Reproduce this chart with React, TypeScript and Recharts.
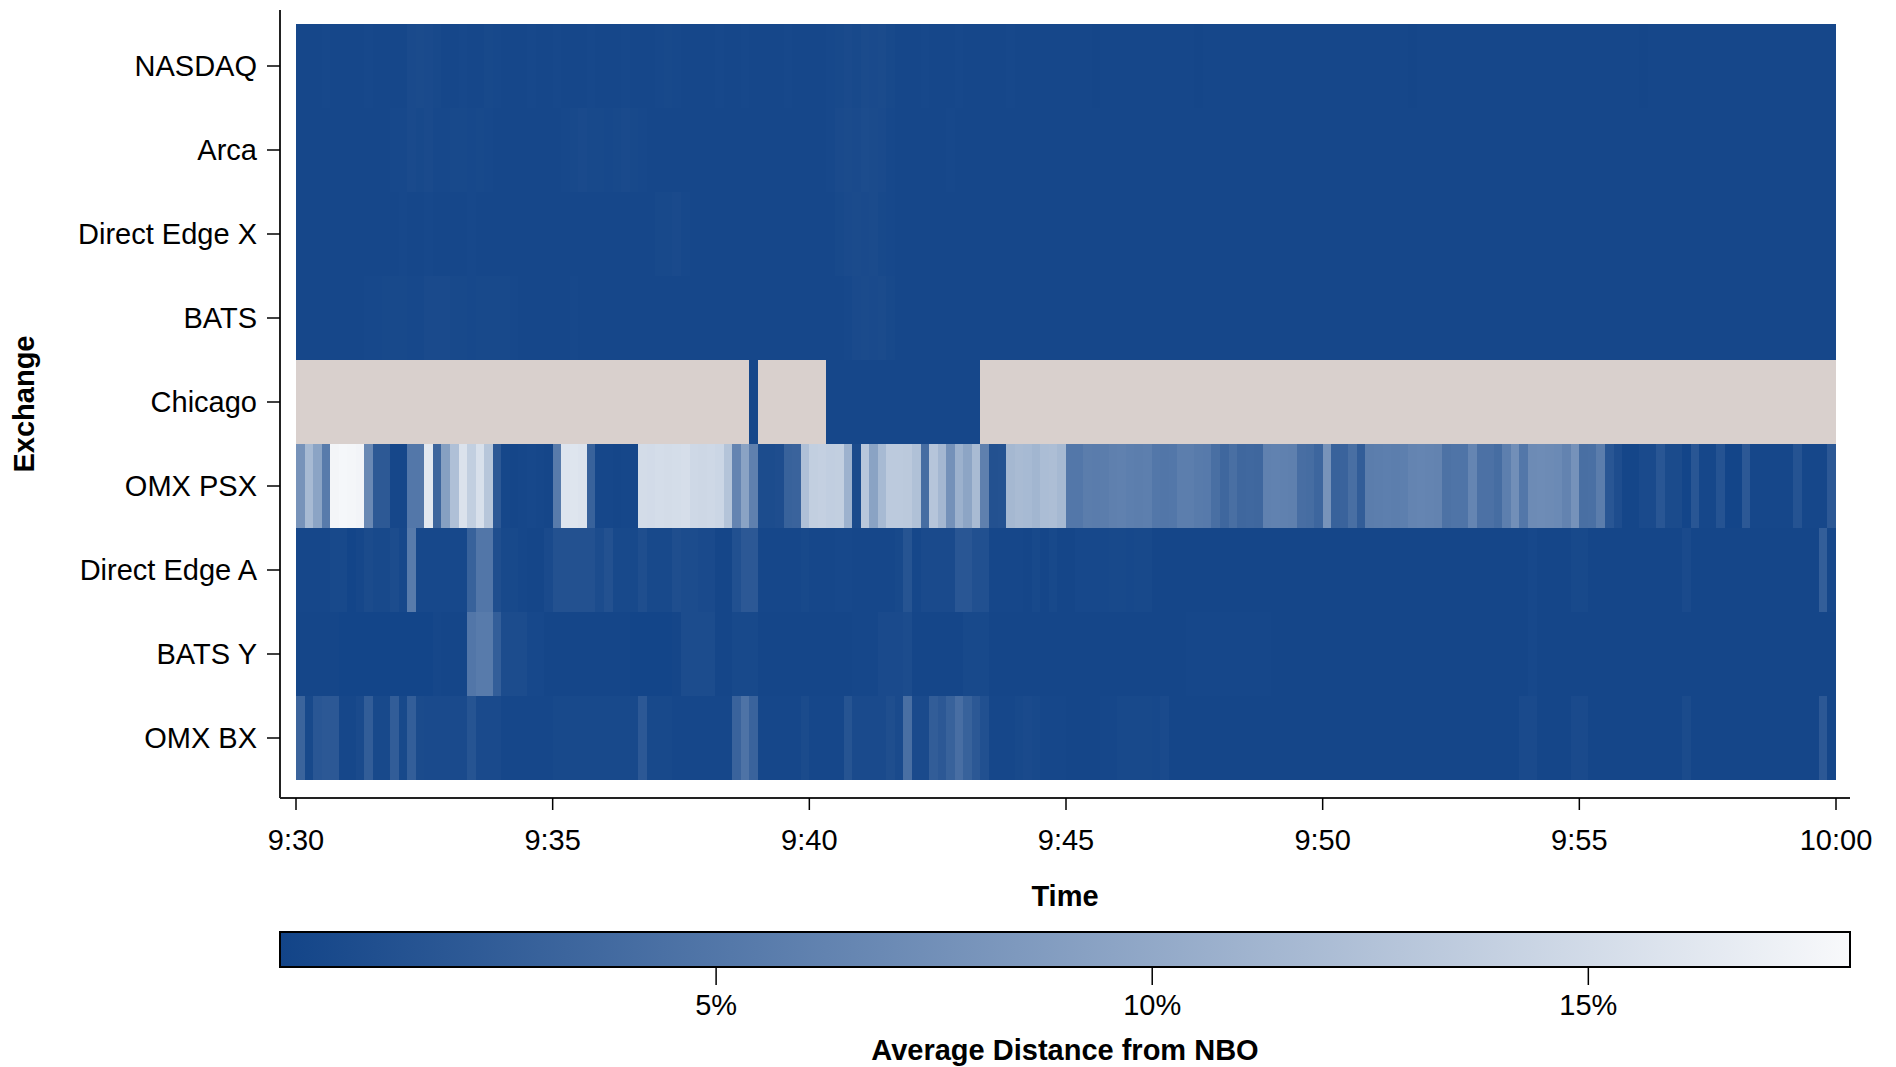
import React from 'react';
import { BarChart, Bar, Cell, XAxis, YAxis } from 'recharts';

// exchanges, top to bottom
const EXCHANGES = [
  'NASDAQ', 'Arca', 'Direct Edge X', 'BATS', 'Chicago',
  'OMX PSX', 'Direct Edge A', 'BATS Y', 'OMX BX',
];

// time axis: seconds after 9:30, one cell per 10 seconds
const BIN_SECONDS = 10;
const SESSION_SECONDS = 1800;
const TIME_TICKS = [0, 300, 600, 900, 1200, 1500, 1800];
const TIME_TICK_LABELS = ['9:30', '9:35', '9:40', '9:45', '9:50', '9:55', '10:00'];

// colour scale (percent)
const SCALE_MAX = 18;
const SCALE_TICKS = [5, 10, 15];

// average distance from NBO (%), 180 ten-second cells per exchange, 18 per line
const NASDAQ_PCT = [
  0.3, 0.3, 0.3, 0.4, 0.3, 0.3, 0.3, 0.3, 0.4, 0.3, 0.3, 0.3, 0.3, 0.6, 0.7, 0.6, 0.5, 0.3,
  0.3, 0.4, 0.3, 0.3, 0.5, 0.4, 0.3, 0.3, 0.3, 0.4, 0.3, 0.3, 0.4, 0.3, 0.3, 0.3, 0.4, 0.3,
  0.3, 0.3, 0.4, 0.3, 0.3, 0.3, 0.4, 0.5, 0.4, 0.3, 0.3, 0.3, 0.3, 0.4, 0.3, 0.3, 0.4, 0.3,
  0.3, 0.3, 0.3, 0.4, 0.3, 0.3, 0.3, 0.3, 0.4, 0.5, 0.6, 0.5, 0.7, 0.6, 0.7, 0.5, 0.3, 0.3,
  0.3, 0.4, 0.3, 0.3, 0.3, 0.4, 0.3, 0.3, 0.3, 0.3, 0.3, 0.4, 0.3, 0.3, 0.3, 0.3, 0.3, 0.3,
  0.3, 0.3, 0.3, 0.2, 0.3, 0.3, 0.3, 0.3, 0.3, 0.3, 0.3, 0.3, 0.3, 0.3, 0.3, 0.2, 0.3, 0.3,
  0.3, 0.3, 0.3, 0.3, 0.3, 0.3, 0.3, 0.3, 0.3, 0.3, 0.3, 0.3, 0.3, 0.3, 0.3, 0.3, 0.3, 0.3,
  0.3, 0.3, 0.3, 0.3, 0.2, 0.3, 0.3, 0.3, 0.3, 0.3, 0.3, 0.3, 0.3, 0.3, 0.3, 0.3, 0.3, 0.3,
  0.3, 0.3, 0.3, 0.3, 0.3, 0.3, 0.3, 0.3, 0.3, 0.3, 0.3, 0.3, 0.3, 0.2, 0.3, 0.3, 0.3, 0.3,
  0.3, 0.3, 0.3, 0.3, 0.3, 0.3, 0.3, 0.3, 0.3, 0.3, 0.3, 0.3, 0.3, 0.3, 0.3, 0.3, 0.3, 0.3,
];
const ARCA_PCT = [
  0.3, 0.3, 0.3, 0.3, 0.3, 0.3, 0.3, 0.3, 0.3, 0.3, 0.3, 0.4, 0.4, 0.6, 0.5, 0.6, 0.4, 0.4,
  0.5, 0.5, 0.4, 0.5, 0.4, 0.3, 0.3, 0.3, 0.3, 0.3, 0.3, 0.3, 0.3, 0.4, 0.5, 0.6, 0.5, 0.5,
  0.4, 0.5, 0.6, 0.5, 0.4, 0.3, 0.3, 0.3, 0.3, 0.3, 0.3, 0.3, 0.3, 0.3, 0.3, 0.3, 0.3, 0.3,
  0.3, 0.3, 0.3, 0.3, 0.3, 0.3, 0.3, 0.3, 0.4, 0.6, 0.7, 0.6, 0.8, 0.7, 0.6, 0.4, 0.3, 0.3,
  0.3, 0.3, 0.3, 0.3, 0.4, 0.3, 0.3, 0.3, 0.3, 0.3, 0.3, 0.3, 0.3, 0.3, 0.3, 0.3, 0.3, 0.3,
  0.3, 0.3, 0.3, 0.3, 0.3, 0.3, 0.3, 0.3, 0.3, 0.3, 0.3, 0.3, 0.3, 0.3, 0.3, 0.3, 0.3, 0.3,
  0.3, 0.3, 0.3, 0.3, 0.3, 0.3, 0.3, 0.3, 0.3, 0.3, 0.3, 0.3, 0.3, 0.3, 0.3, 0.3, 0.3, 0.3,
  0.3, 0.3, 0.3, 0.3, 0.3, 0.3, 0.3, 0.3, 0.3, 0.3, 0.3, 0.3, 0.3, 0.3, 0.3, 0.3, 0.3, 0.3,
  0.3, 0.3, 0.3, 0.3, 0.3, 0.3, 0.3, 0.3, 0.3, 0.3, 0.3, 0.3, 0.3, 0.3, 0.3, 0.3, 0.3, 0.3,
  0.3, 0.3, 0.3, 0.3, 0.3, 0.3, 0.3, 0.3, 0.3, 0.3, 0.3, 0.3, 0.3, 0.3, 0.3, 0.3, 0.3, 0.3,
];
const EDGE_X_PCT = [
  0.3, 0.3, 0.3, 0.3, 0.3, 0.3, 0.3, 0.3, 0.3, 0.3, 0.3, 0.3, 0.4, 0.3, 0.3, 0.4, 0.3, 0.3,
  0.3, 0.3, 0.4, 0.3, 0.3, 0.3, 0.3, 0.3, 0.3, 0.3, 0.3, 0.3, 0.3, 0.3, 0.3, 0.3, 0.3, 0.3,
  0.3, 0.3, 0.3, 0.3, 0.3, 0.3, 0.5, 0.5, 0.6, 0.4, 0.3, 0.3, 0.3, 0.3, 0.3, 0.3, 0.3, 0.3,
  0.3, 0.3, 0.3, 0.3, 0.3, 0.3, 0.3, 0.3, 0.3, 0.5, 0.6, 0.7, 0.6, 0.7, 0.5, 0.4, 0.3, 0.3,
  0.3, 0.3, 0.3, 0.3, 0.3, 0.3, 0.3, 0.3, 0.3, 0.3, 0.3, 0.3, 0.3, 0.3, 0.3, 0.3, 0.3, 0.3,
  0.3, 0.3, 0.3, 0.3, 0.3, 0.3, 0.3, 0.3, 0.3, 0.3, 0.3, 0.3, 0.3, 0.3, 0.3, 0.3, 0.3, 0.3,
  0.3, 0.3, 0.3, 0.3, 0.3, 0.3, 0.3, 0.3, 0.3, 0.3, 0.3, 0.3, 0.3, 0.3, 0.3, 0.3, 0.3, 0.3,
  0.3, 0.3, 0.3, 0.3, 0.3, 0.3, 0.3, 0.3, 0.3, 0.3, 0.3, 0.3, 0.3, 0.3, 0.3, 0.3, 0.3, 0.3,
  0.3, 0.3, 0.3, 0.3, 0.3, 0.3, 0.3, 0.3, 0.3, 0.3, 0.3, 0.3, 0.3, 0.3, 0.3, 0.3, 0.3, 0.3,
  0.3, 0.3, 0.3, 0.3, 0.3, 0.3, 0.3, 0.3, 0.3, 0.3, 0.3, 0.3, 0.3, 0.3, 0.3, 0.3, 0.3, 0.3,
];
const BATS_PCT = [
  0.3, 0.3, 0.3, 0.3, 0.3, 0.3, 0.3, 0.3, 0.4, 0.4, 0.5, 0.5, 0.5, 0.4, 0.4, 0.6, 0.6, 0.6,
  0.5, 0.5, 0.4, 0.5, 0.5, 0.5, 0.5, 0.4, 0.3, 0.3, 0.3, 0.3, 0.3, 0.3, 0.4, 0.3, 0.3, 0.3,
  0.3, 0.3, 0.3, 0.3, 0.3, 0.3, 0.3, 0.3, 0.3, 0.3, 0.3, 0.3, 0.3, 0.3, 0.3, 0.3, 0.3, 0.3,
  0.3, 0.3, 0.3, 0.3, 0.3, 0.3, 0.3, 0.3, 0.3, 0.3, 0.4, 0.6, 0.7, 0.6, 0.7, 0.5, 0.3, 0.3,
  0.3, 0.3, 0.3, 0.3, 0.3, 0.3, 0.3, 0.3, 0.3, 0.3, 0.3, 0.3, 0.3, 0.3, 0.3, 0.3, 0.3, 0.3,
  0.3, 0.3, 0.3, 0.3, 0.3, 0.3, 0.3, 0.3, 0.3, 0.3, 0.3, 0.3, 0.3, 0.3, 0.3, 0.3, 0.3, 0.3,
  0.3, 0.3, 0.3, 0.3, 0.3, 0.3, 0.3, 0.3, 0.3, 0.3, 0.3, 0.3, 0.3, 0.3, 0.3, 0.3, 0.3, 0.3,
  0.3, 0.3, 0.3, 0.3, 0.3, 0.3, 0.3, 0.3, 0.3, 0.3, 0.3, 0.3, 0.3, 0.3, 0.3, 0.3, 0.3, 0.3,
  0.3, 0.3, 0.3, 0.3, 0.3, 0.3, 0.3, 0.3, 0.3, 0.3, 0.3, 0.3, 0.3, 0.3, 0.3, 0.3, 0.3, 0.3,
  0.3, 0.3, 0.3, 0.3, 0.3, 0.3, 0.3, 0.3, 0.3, 0.3, 0.3, 0.3, 0.3, 0.3, 0.3, 0.3, 0.3, 0.3,
];
// null = no quotes (drawn grey)
const CHICAGO_PCT = [
  null, null, null, null, null, null, null, null, null, null, null, null, null, null, null, null, null, null,
  null, null, null, null, null, null, null, null, null, null, null, null, null, null, null, null, null, null,
  null, null, null, null, null, null, null, null, null, null, null, null, null, null, null, null, null, 0.3,
  null, null, null, null, null, null, null, null, 0.3, 0.3, 0.3, 0.3, 0.3, 0.3, 0.3, 0.3, 0.3, 0.3,
  0.3, 0.3, 0.3, 0.3, 0.3, 0.3, 0.3, 0.3, null, null, null, null, null, null, null, null, null, null,
  null, null, null, null, null, null, null, null, null, null, null, null, null, null, null, null, null, null,
  null, null, null, null, null, null, null, null, null, null, null, null, null, null, null, null, null, null,
  null, null, null, null, null, null, null, null, null, null, null, null, null, null, null, null, null, null,
  null, null, null, null, null, null, null, null, null, null, null, null, null, null, null, null, null, null,
  null, null, null, null, null, null, null, null, null, null, null, null, null, null, null, null, null, null,
];
const PSX_PCT = [
  7.9, 11.7, 9.5, 5.5, 17.6, 17.8, 17.7, 17.5, 6.9, 2.1, 2.1, 0.3, 0.3, 5.1, 5.1, 16.3, 3.3, 9.1,
  12.3, 15.7, 13.8, 15.5, 12.9, 2.0, 0.3, 0.2, 0.3, 0.4, 0.3, 0.2, 5.5, 15.9, 16.0, 15.8, 3.0, 0.3,
  0.3, 0.2, 0.3, 0.3, 15.1, 15.0, 15.2, 15.1, 15.2, 15.3, 14.7, 14.6, 14.7, 14.5, 12.7, 6.4, 9.4, 6.0,
  0.8, 0.8, 0.9, 3.0, 3.1, 12.3, 13.8, 13.9, 13.7, 13.8, 10.9, 0.7, 13.0, 9.4, 11.7, 13.3, 13.3, 13.2,
  12.4, 4.1, 12.8, 11.4, 7.7, 10.8, 9.6, 11.8, 6.0, 1.3, 1.4, 11.5, 11.8, 11.7, 11.3, 12.0, 12.1, 11.6,
  5.1, 5.1, 5.7, 5.6, 5.7, 6.0, 6.1, 5.9, 5.8, 5.9, 5.1, 5.0, 5.1, 5.8, 5.8, 5.5, 5.4, 4.3,
  3.5, 4.3, 3.5, 3.6, 3.5, 6.1, 6.2, 6.1, 6.0, 4.2, 4.1, 3.4, 7.9, 3.0, 3.1, 4.3, 2.5, 5.7,
  5.8, 5.9, 5.8, 5.9, 6.4, 6.5, 6.4, 6.3, 4.6, 4.8, 4.8, 6.5, 4.5, 4.5, 4.1, 5.9, 7.5, 5.1,
  7.1, 7.2, 7.1, 7.0, 6.3, 7.8, 4.3, 4.4, 5.7, 1.8, 0.9, 0.2, 0.2, 0.6, 0.6, 1.8, 0.7, 0.7,
  0.1, 1.8, 0.3, 0.3, 1.5, 0.1, 0.1, 2.0, 0.3, 0.3, 0.3, 0.3, 0.3, 1.5, 0.3, 0.3, 0.3, 2.0,
];
const EDGE_A_PCT = [
  0.3, 0.3, 0.3, 0.3, 0.5, 0.5, 0.1, 0.3, 0.7, 0.5, 0.5, 0.8, 0.4, 5.5, 0.4, 0.4, 0.4, 0.4,
  0.4, 0.4, 3.0, 5.0, 5.0, 1.0, 0.5, 0.5, 0.3, 0.2, 0.2, 0.6, 1.3, 1.3, 1.3, 1.3, 1.3, 0.8,
  1.3, 0.5, 0.5, 0.5, 1.0, 0.5, 0.5, 0.5, 1.0, 0.8, 0.8, 0.6, 0.6, 0.2, 0.2, 1.2, 2.0, 2.0,
  0.3, 0.3, 0.3, 0.3, 0.3, 0.5, 0.3, 0.3, 0.3, 0.4, 0.4, 0.3, 0.3, 0.3, 0.3, 0.3, 0.5, 1.6,
  0.3, 0.6, 0.6, 0.6, 0.6, 1.8, 1.8, 1.2, 1.2, 0.3, 0.3, 0.3, 0.3, 0.2, 0.5, 0.2, 0.5, 0.2,
  0.2, 0.4, 0.4, 0.4, 0.4, 0.5, 0.5, 0.4, 0.5, 0.5, 0.2, 0.2, 0.2, 0.2, 0.2, 0.2, 0.2, 0.2,
  0.2, 0.2, 0.2, 0.2, 0.2, 0.2, 0.2, 0.2, 0.2, 0.2, 0.2, 0.2, 0.2, 0.2, 0.2, 0.2, 0.2, 0.2,
  0.2, 0.2, 0.2, 0.2, 0.2, 0.2, 0.2, 0.2, 0.2, 0.2, 0.2, 0.2, 0.2, 0.2, 0.2, 0.2, 0.2, 0.2,
  0.4, 0.2, 0.2, 0.2, 0.2, 0.5, 0.5, 0.2, 0.2, 0.2, 0.2, 0.2, 0.2, 0.2, 0.2, 0.2, 0.2, 0.2,
  0.6, 0.2, 0.2, 0.2, 0.2, 0.2, 0.2, 0.2, 0.2, 0.2, 0.2, 0.2, 0.2, 0.2, 0.2, 0.2, 2.6, 0.3,
];
const BATS_Y_PCT = [
  0.2, 0.2, 0.2, 0.2, 0.2, 0.1, 0.1, 0.1, 0.1, 0.1, 0.1, 0.1, 0.1, 0.1, 0.1, 0.1, 0.3, 0.2,
  0.2, 0.2, 5.0, 5.5, 5.5, 2.6, 0.8, 0.8, 0.8, 0.4, 0.4, 0.2, 0.2, 0.2, 0.2, 0.2, 0.2, 0.2,
  0.2, 0.2, 0.2, 0.1, 0.1, 0.1, 0.1, 0.1, 0.2, 0.8, 0.8, 0.8, 0.8, 0.2, 0.2, 0.5, 0.5, 0.5,
  0.2, 0.2, 0.2, 0.2, 0.2, 0.2, 0.2, 0.2, 0.2, 0.2, 0.2, 0.3, 0.3, 0.3, 0.6, 0.6, 0.6, 0.8,
  0.2, 0.2, 0.2, 0.2, 0.2, 0.2, 0.5, 0.5, 0.5, 0.2, 0.2, 0.2, 0.2, 0.2, 0.2, 0.2, 0.2, 0.2,
  0.2, 0.2, 0.2, 0.2, 0.2, 0.2, 0.2, 0.2, 0.2, 0.2, 0.2, 0.2, 0.2, 0.2, 0.3, 0.3, 0.3, 0.3,
  0.3, 0.3, 0.3, 0.3, 0.3, 0.3, 0.2, 0.2, 0.2, 0.2, 0.2, 0.2, 0.2, 0.2, 0.2, 0.2, 0.2, 0.2,
  0.2, 0.2, 0.2, 0.2, 0.2, 0.2, 0.2, 0.2, 0.2, 0.2, 0.2, 0.2, 0.2, 0.2, 0.2, 0.2, 0.2, 0.2,
  0.4, 0.2, 0.2, 0.2, 0.2, 0.2, 0.2, 0.2, 0.2, 0.2, 0.2, 0.2, 0.2, 0.2, 0.2, 0.2, 0.2, 0.2,
  0.2, 0.2, 0.2, 0.2, 0.2, 0.2, 0.2, 0.2, 0.2, 0.2, 0.2, 0.2, 0.2, 0.2, 0.2, 0.2, 0.2, 0.2,
];
const BX_PCT = [
  3.2, 0.5, 1.8, 2.0, 2.0, 0.3, 0.3, 0.6, 2.5, 0.5, 0.5, 2.5, 0.5, 2.6, 0.7, 0.6, 0.6, 0.6,
  0.6, 0.6, 1.6, 0.6, 0.6, 0.6, 0.3, 0.3, 0.3, 0.3, 0.3, 0.3, 0.5, 0.5, 0.5, 0.5, 0.5, 0.5,
  0.5, 0.5, 0.5, 0.5, 2.0, 0.5, 0.5, 0.5, 0.3, 0.3, 0.3, 0.3, 0.3, 0.3, 0.3, 3.1, 4.7, 3.1,
  0.3, 0.3, 0.3, 0.3, 0.3, 0.7, 0.3, 0.3, 0.3, 0.3, 1.6, 0.6, 0.6, 0.6, 0.6, 1.0, 0.6, 4.3,
  0.6, 0.6, 2.5, 2.0, 3.0, 4.2, 3.0, 2.0, 1.2, 0.3, 0.3, 0.3, 0.5, 0.6, 0.5, 0.3, 0.3, 0.3,
  0.2, 0.2, 0.2, 0.2, 0.3, 0.3, 0.5, 0.5, 0.5, 0.5, 0.4, 0.6, 0.2, 0.2, 0.2, 0.2, 0.2, 0.2,
  0.2, 0.2, 0.2, 0.2, 0.2, 0.2, 0.2, 0.2, 0.2, 0.2, 0.2, 0.2, 0.2, 0.2, 0.2, 0.2, 0.2, 0.2,
  0.2, 0.2, 0.2, 0.2, 0.2, 0.2, 0.2, 0.2, 0.2, 0.2, 0.2, 0.2, 0.2, 0.2, 0.2, 0.2, 0.2, 0.6,
  0.6, 0.2, 0.2, 0.2, 0.2, 0.6, 0.6, 0.2, 0.2, 0.2, 0.2, 0.2, 0.2, 0.2, 0.2, 0.2, 0.2, 0.2,
  0.7, 0.2, 0.2, 0.2, 0.2, 0.2, 0.2, 0.2, 0.2, 0.2, 0.2, 0.2, 0.2, 0.2, 0.2, 0.2, 2.0, 0.2,
];

const ROW_VALUES = [
  NASDAQ_PCT, ARCA_PCT, EDGE_X_PCT, BATS_PCT, CHICAGO_PCT,
  PSX_PCT, EDGE_A_PCT, BATS_Y_PCT, BX_PCT,
];

const LOW = [18, 68, 136];
const HIGH = [248, 249, 251];
const MISSING = '#d9d0cd';
const FONT = "'Liberation Sans', Arial, Helvetica, sans-serif";

function pctColor(v: number | null) {
  if (v == null) return MISSING;
  const t = Math.max(0, Math.min(1, v / SCALE_MAX));
  const c = LOW.map((lo, k) => Math.round(lo + (HIGH[k] - lo) * t));
  return `rgb(${c[0]},${c[1]},${c[2]})`;
}

const binIds = NASDAQ_PCT.map((_, i) => i);

// one stacked segment of BIN_SECONDS per cell, rows = exchanges
const heatData = EXCHANGES.map((exchange) => {
  const row: Record<string, any> = { exchange };
  binIds.forEach((i) => { row[`b${i}`] = BIN_SECONDS; });
  return row;
});

const scaleData = [{ name: 'scale', max: SCALE_MAX }];

const tickStyle = { fill: '#000', fontSize: 29, fontFamily: FONT };

const ExchangeTitle = (props: any) => {
  const vb = props.viewBox || { x: 0, y: 10, width: 280, height: 788 };
  const cx = vb.x + 24;
  const cy = vb.y + vb.height / 2;
  return (
    <text x={cx} y={cy} transform={`rotate(-90 ${cx} ${cy})`} textAnchor="middle"
      dominantBaseline="central" fontFamily={FONT} fontSize={29} fontWeight="bold" fill="#000">
      Exchange
    </text>
  );
};

export default function App() {
  return (
    <div style={{ position: 'absolute', left: 0, top: 0, width: 1896, height: 1067, background: '#fff' }}>
      <div style={{ position: 'absolute', left: 0, top: 0 }}>
        <BarChart
          width={1896}
          height={918}
          layout="vertical"
          data={heatData}
          margin={{ top: 10, right: 46, left: 0, bottom: 0 }}
          barCategoryGap={0}
          barGap={0}
        >
          <XAxis
            type="number"
            domain={[0, SESSION_SECONDS]}
            ticks={TIME_TICKS}
            tickFormatter={(v: number) => TIME_TICK_LABELS[TIME_TICKS.indexOf(v)]}
            padding={{ left: 16, right: 14 }}
            height={120}
            tickSize={12}
            tickMargin={19}
            tick={tickStyle}
            axisLine={{ stroke: '#222', strokeWidth: 2 }}
            tickLine={{ stroke: '#000', strokeWidth: 1.5 }}
            interval={0}
            label={{ value: 'Time', position: 'insideBottom', offset: 12,
              style: { fontFamily: FONT, fontSize: 29, fontWeight: 'bold', fill: '#000' } }}
          />
          <YAxis
            type="category"
            dataKey="exchange"
            width={280}
            padding={{ top: 14, bottom: 18 }}
            tickSize={13}
            tickMargin={10}
            tick={tickStyle}
            axisLine={{ stroke: '#222', strokeWidth: 2 }}
            tickLine={{ stroke: '#000', strokeWidth: 1.5 }}
            interval={0}
            label={<ExchangeTitle />}
          />
          {binIds.map((i) => (
            <Bar key={i} dataKey={`b${i}`} stackId="t" isAnimationActive={false}>
              {ROW_VALUES.map((vals, r) => (
                <Cell key={r} fill={pctColor(vals[i])} shapeRendering="crispEdges" />
              ))}
            </Bar>
          ))}
        </BarChart>
      </div>
      <div style={{ position: 'absolute', left: 0, top: 920 }}>
        <BarChart
          width={1896}
          height={147}
          layout="vertical"
          data={scaleData}
          margin={{ top: 12, right: 46, left: 280, bottom: 5 }}
          barCategoryGap={0}
        >
          <defs>
            <linearGradient id="nboScale" x1="0" y1="0" x2="1" y2="0">
              <stop offset="0" stopColor={pctColor(0)} />
              <stop offset="1" stopColor={pctColor(SCALE_MAX)} />
            </linearGradient>
          </defs>
          <XAxis
            type="number"
            domain={[0, SCALE_MAX]}
            ticks={SCALE_TICKS}
            tickFormatter={(v: number) => `${v}%`}
            axisLine={false}
            height={95}
            tickSize={18}
            tickMargin={9}
            tick={tickStyle}
            tickLine={{ stroke: '#000', strokeWidth: 1.5 }}
            interval={0}
            label={{ value: 'Average Distance from NBO', position: 'insideBottom', offset: 2,
              style: { fontFamily: FONT, fontSize: 29, fontWeight: 'bold', fill: '#000' } }}
          />
          <YAxis type="category" dataKey="name" hide />
          <Bar dataKey="max" fill="url(#nboScale)" stroke="#000" strokeWidth={2} isAnimationActive={false} />
        </BarChart>
      </div>
    </div>
  );
}
